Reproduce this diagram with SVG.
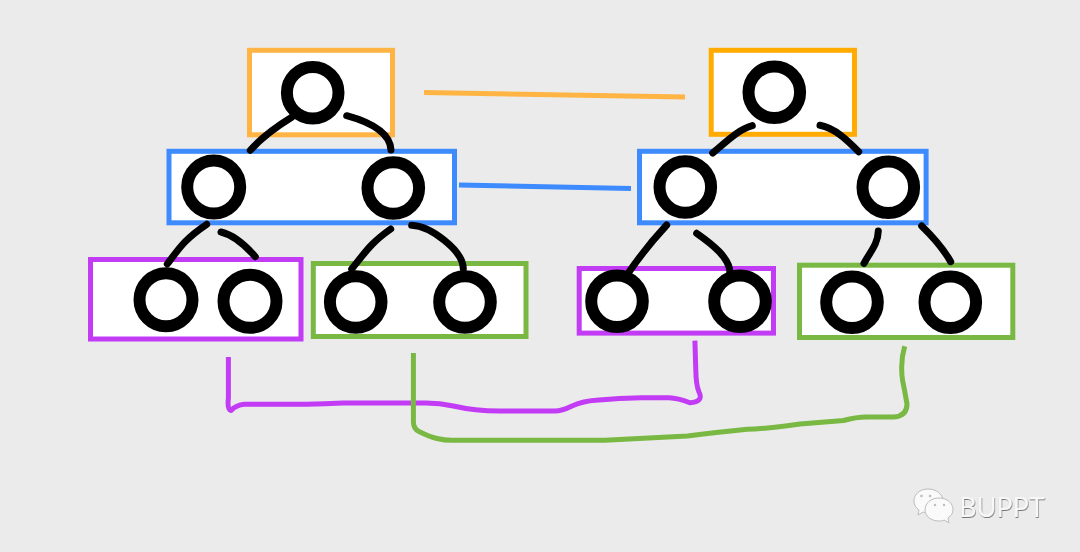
<svg xmlns="http://www.w3.org/2000/svg" width="1080" height="552" viewBox="0 0 1080 552">
<style>
.box{fill:#fff;stroke-width:5}
.orange{stroke:#FFB444}.amber{stroke:#FFAB00}.blue{stroke:#3D8BFF}.purple{stroke:#C23BF5}.green{stroke:#78B843}
.n{fill:#fff;stroke:#000;stroke-width:12}
.e{fill:none;stroke:#000;stroke-width:7;stroke-linecap:round;stroke-linejoin:round}
.link{fill:none;stroke-width:5;stroke-linecap:butt;stroke-linejoin:round}
.logo{fill:#fafafa;stroke:#bdbdbd;stroke-width:1}
.dot{fill:#bdbdbd}
.wm{font-family:"Lato","Liberation Sans",sans-serif;font-size:27px;fill:#f7f7f7;filter:url(#sh)}
</style>
<defs>
<filter id="sh" x="-10%" y="-20%" width="120%" height="150%"><feDropShadow dx="0.6" dy="1" stdDeviation="0.5" flood-color="#777"/></filter>
</defs>
<rect width="1080" height="552" fill="#EBEBEB"/>

<g id="boxes">
<rect class="box orange" x="249.5" y="50.3" width="143" height="84.5"/>
<rect class="box blue" x="169" y="151.3" width="285.5" height="71.5"/>
<rect class="box purple" x="90.5" y="259.5" width="210.5" height="79.5"/>
<rect class="box green" x="313.3" y="263.5" width="212.7" height="73"/>
<rect class="box amber" x="711.2" y="50.3" width="143.3" height="84"/>
<rect class="box blue" x="639.5" y="151.3" width="286.6" height="71.5"/>
<rect class="box purple" x="579.2" y="268.5" width="194.3" height="64.6"/>
<rect class="box green" x="799.5" y="265.2" width="213.3" height="72.3"/>
</g>

<g id="connectors">
<g id="tree-edges">
<path class="e" d="M291.7 117.3C276 127 262 137 250.3 150.3"/>
<path class="e" d="M346.7 115.7C366 121 390 131 391 150"/>
<path class="e" d="M206.7 224.3C185 239 180 247 167.3 264"/>
<path class="e" d="M221 232C234 235 246 246 255.3 256.7"/>
<path class="e" d="M390.7 229C371 243 367 250 351.7 269"/>
<path class="e" d="M411.7 225.3C430 226 463 250 463.3 268.7"/>
<path class="e" d="M752.3 125.7C737 130 725 143 712.7 153"/>
<path class="e" d="M820 125.3C835 128 848 141 858.7 151.7"/>
<path class="e" d="M666.7 225C650 243 640 256 628.3 273"/>
<path class="e" d="M696.7 233.3C712 244 730 258 730 273"/>
<path class="e" d="M878.3 231C878 244 870 252 864 263.3"/>
<path class="e" d="M921.7 226C933 237 943 248 950.7 261.7"/>
</g>
<g id="links">
<path class="link" stroke="#FFB444" d="M424 92.5L685 97"/>
<path class="link" stroke="#3D8BFF" d="M459 185L631 188.5"/>
<path class="link" stroke="#C23BF5" d="M228.4 357V398Q227 410 231 410.5Q236 405 244.4 404.3H306.4Q325 404 343 403H425.8Q440 403 453.3 406Q475 411 499.3 411H554.4Q562 411 572 406Q584 401 595.7 400.3Q620 398 641.6 397.7H669Q678 398 689.8 402.7Q704 402 699 392Q696 385 695.8 370L694.9 340.7"/>
<path class="link" stroke="#78B843" d="M413.4 353V421.7Q413.5 429 419 431.5Q430 437 437 438.5Q445 440.5 453.3 440.3H604.9Q650 438 687.5 436Q720 432 747 429.3Q765 429 800 424L843.6 420.5Q856 417 866.6 417H894Q907 416 907 404Q905 392 902.5 380Q900 362 904.7 346.3"/>
</g>
</g>

<g id="n1"><circle class="n" cx="312.7" cy="92.7" r="25.8"/></g>
<g id="n2"><circle class="n" cx="213.7" cy="187" r="26.5"/></g>
<g id="n3"><circle class="n" cx="393.3" cy="188" r="25.8"/></g>
<g id="n4"><circle class="n" cx="166" cy="299.7" r="26.5"/></g>
<g id="n5"><circle class="n" cx="250" cy="301.3" r="26.5"/></g>
<g id="n6"><circle class="n" cx="355.7" cy="302" r="25.8"/></g>
<g id="n7"><circle class="n" cx="465" cy="302" r="25.8"/></g>
<g id="m1"><circle class="n" cx="774.3" cy="92.3" r="25.8"/></g>
<g id="m2"><circle class="n" cx="685.3" cy="187" r="25.8"/></g>
<g id="m3"><circle class="n" cx="888.3" cy="187.3" r="25.8"/></g>
<g id="m4"><circle class="n" cx="617" cy="301.3" r="25.8"/></g>
<g id="m5"><circle class="n" cx="740" cy="301.3" r="25.8"/></g>
<g id="m6"><circle class="n" cx="852" cy="302.3" r="25.8"/></g>
<g id="m7"><circle class="n" cx="950.3" cy="302.3" r="25.8"/></g>

<g id="watermark">
<path class="logo" d="M928 489C920 489 914 494 914 501C914 505 916 508 919 510L918 515L923 512C925 513 927 513 929 513C938 513 943 507 943 501C943 494 936 489 928 489Z"/>
<circle class="dot" cx="921.5" cy="496" r="1.3"/><circle class="dot" cx="930" cy="496" r="1.3"/>
<path class="logo" d="M939 498C931 498 925 503 925 510C925 516 931 521 939 521C941 521 943 521 944 520L949 523L948 518C951 516 953 513 953 510C953 503 947 498 939 498Z"/>
<circle class="dot" cx="935" cy="505" r="1.2"/><circle class="dot" cx="944" cy="505" r="1.2"/>
<text class="wm" x="959" y="517">BUPPT</text>
</g>
</svg>
